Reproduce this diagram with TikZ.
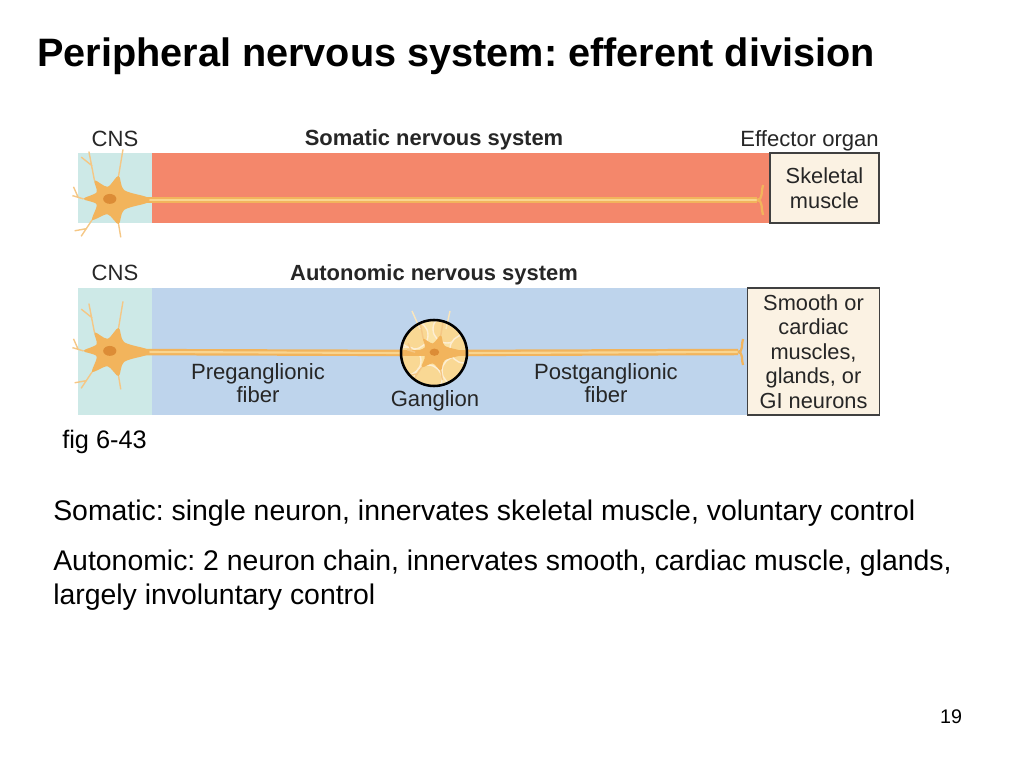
\documentclass[tikz,border=0pt]{standalone}
\usepackage{fontspec}
\setmainfont{Liberation Sans}
\usepackage{tikz}
\usetikzlibrary{positioning}
\frenchspacing

\definecolor{cnsbg}{HTML}{CDE9E7}
\definecolor{somred}{HTML}{F4876B}
\definecolor{autblue}{HTML}{BED4EC}
\definecolor{organbg}{HTML}{FBF2E3}
\definecolor{cell}{HTML}{F2B45C}
\definecolor{cellhi}{HTML}{F9D590}
\definecolor{cellnuc}{HTML}{DC8C36}
\definecolor{gangfill}{HTML}{FBE3A6}
\definecolor{txt}{HTML}{262626}

\tikzset{
  lbl/.style={font=\fontsize{15.7}{16.5}\selectfont, text=txt, align=center, inner sep=0},
  lblbold/.style={lbl, font=\fontsize{15.6}{16.5}\selectfont\bfseries},
  organ/.style={draw=black!75, line width=0.9pt, fill=organbg, align=center,
    text=txt, font=\fontsize{15.5}{17.5}\selectfont, inner sep=0},
  body/.style={font=\fontsize{20.2}{24}\selectfont, inner sep=0, anchor=base west},
  axon/.style={draw=cell, line width=4.6pt},
  axonhi/.style={draw=cellhi, line width=1.5pt},
  axonend/.style={draw=cell, line width=1.6pt},
  dendrite/.style={draw=cell!75!white, line width=1pt},
  soma/.pic={
    \draw[dendrite] (-16,-18) -- (-21,-44) (-18,-31) -- (-28,-39)
      (6,-22) -- (10,-46)
      (-26,-1) -- (-36,-4) (-31,-3) -- (-35,-12)
      (-18,18) -- (-28,33) (-23,26) -- (-34,28)
      (6,22) -- (8,34);
    \fill[cell] plot[smooth cycle, tension=0.5] coordinates {
      (-16,-18) (-4,-12) (6,-22) (11,-9) (32,-2.5) (32,2.5) (11,9) (6,22)
      (-4,13) (-18,18) (-14,4) (-26,-1) (-14,-7)};
    \fill[cellnuc] (-2,-1) ellipse (6 and 4.5);
  },
}

\begin{document}
\begin{tikzpicture}[x=0.025cm, y=-0.025cm]
\useasboundingbox (0,0) rectangle (1024,768);

\node[font=\fontsize{28.2}{32}\selectfont\bfseries, inner sep=0, anchor=base west]
  (title) at (37,67) {Peripheral nervous system: efferent division};

% somatic pathway
\fill[cnsbg] (78,153) rectangle (152,223);
\fill[somred] (152,153) rectangle (770,223);
\node[organ, minimum width=2.725cm, minimum height=1.75cm] (skelmuscle) at (824.5,188) {Skeletal\\muscle};
\node[lbl, anchor=base] (cnsA) at (115,147) {CNS};
\node[lblbold, anchor=base] (somatic) at (434,146) {Somatic nervous system};
\node[lbl, anchor=base east] (effector) at (879,147) {Effector organ};

\coordinate (somaA) at (112,200);
\coordinate (termA) at (757,200);
\draw[axon] (somaA) -- (termA);
\draw[axonhi] (somaA) ++(34,0) -- (termA);
\draw[axonend] (termA) to[out=0,in=250] ++(6,-15) (termA) to[out=0,in=110] ++(6,15);
\pic[scale=1.1] at (somaA) {soma};

% autonomic pathway
\fill[cnsbg] (78,288) rectangle (152,415);
\fill[autblue] (152,288) rectangle (748,415);
\node[organ, minimum width=3.3cm, minimum height=3.175cm] (smoothbox) at (813.5,351.5)
  {Smooth or\\cardiac\\muscles,\\glands, or\\GI neurons};
\node[lbl, anchor=base] (cnsB) at (115,280) {CNS};
\node[lblbold, anchor=base] (autonomic) at (434,280) {Autonomic nervous system};

\coordinate (somaB) at (112,352);
\coordinate (termB) at (738,352);
\node[circle, fill=gangfill, minimum size=1.65cm, inner sep=0] (ganglion) at (434,353) {};
\draw[axon] (somaB) -- (ganglion.center) -- (termB);
\draw[axonhi] (somaB) ++(34,0) -- (ganglion.west);
\draw[axonhi] (ganglion.east) -- (termB);
\draw[axonend] (termB) to[out=0,in=250] ++(5,-13) (termB) to[out=0,in=110] ++(5,13);
\pic[scale=1.1] at (somaB) {soma};

% ganglion
\begin{scope}
  \clip (ganglion.center) circle (32);
  \fill[gangfill] (ganglion.center) circle (32);
  \foreach \dx/\dy in {-20/-18, 13/-24, -27/8, -6/26, 22/18, 30/-4}
    \draw[cellhi!40!white, line width=1pt, fill=cellhi!80!gangfill]
      (ganglion.center) ++(\dx,\dy) circle (14);
  \draw[axon] (ganglion.west) -- (ganglion.east);
  \pic[scale=0.8] at ([xshift=0.05cm]ganglion.center) {soma};
\end{scope}
\draw[dendrite, draw=cellhi!60!white] (ganglion.center) ++(-14,-24) -- ++(-8,-18)
  (ganglion.center) ++(12,-24) -- ++(4,-18);
\draw[black, line width=1.8pt] (ganglion.center) circle (33);

\node[lbl, anchor=base] (gangltext) at (435,406) {Ganglion};
\node[lbl] (preg) at (258,383) {Preganglionic\\fiber};
\node[lbl] (postg) at (606,383) {Postganglionic\\fiber};

% notes
\node[font=\fontsize{18}{20}\selectfont, inner sep=0, anchor=base west] (fig) at (62,448) {fig 6-43};
\node[body] (somnote) at (53,520) {Somatic: single neuron, innervates skeletal muscle, voluntary control};
\node[body] (autnote) at (53,570) {Autonomic: 2 neuron chain, innervates smooth, cardiac muscle, glands,};
\node[body] (autnote2) at (53,604) {largely involuntary control};
\node[font=\fontsize{14}{16}\selectfont, inner sep=0, anchor=base] (pagenum) at (951,723) {19};
\end{tikzpicture}
\end{document}
